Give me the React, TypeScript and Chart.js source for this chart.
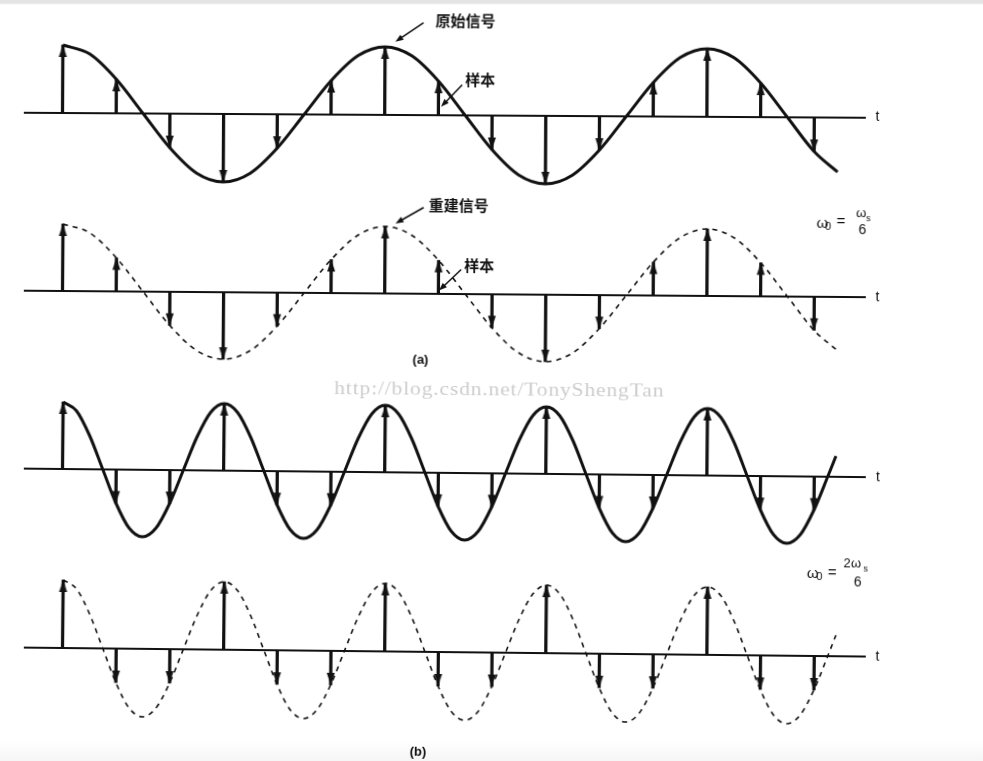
import React, { useEffect, useRef } from "react";
import { Chart, registerables } from "chart.js";

Chart.register(...registerables);

// ---------- data ----------
// sample instants (in sample periods Ts)
const sampleTimes = [0, 1, 2, 3, 4, 5, 6, 7, 8, 9, 10, 11, 12, 13, 14];
// (a) ω0 = ωs/6 : six samples per period
const samplesA = [1, 0.5, -0.5, -1, -0.5, 0.5, 1, 0.5, -0.5, -1, -0.5, 0.5, 1, 0.5, -0.5];
// (b) ω0 = 2ωs/6 : three samples per period
const samplesB = [1, -0.5, -0.5, 1, -0.5, -0.5, 1, -0.5, -0.5, 1, -0.5, -0.5, 1, -0.5, -0.5];

// continuous signal (a), read every half sample period
const curveATimes = [
  0, 0.5, 1, 1.5, 2, 2.5, 3, 3.5, 4, 4.5, 5, 5.5, 6, 6.5, 7, 7.5, 8, 8.5, 9, 9.5,
  10, 10.5, 11, 11.5, 12, 12.5, 13, 13.5, 14, 14.44,
];
const curveAValues = [
  1, 0.87, 0.5, 0, -0.5, -0.87, -1, -0.87, -0.5, 0, 0.5, 0.87,
  1, 0.87, 0.5, 0, -0.5, -0.87, -1, -0.87, -0.5, 0, 0.5, 0.87,
  1, 0.87, 0.5, 0, -0.5, -0.8,
];

// continuous signal (b), read every quarter sample period
const curveBTimes = [
  0, 0.25, 0.5, 0.75, 1, 1.25, 1.5, 1.75, 2, 2.25, 2.5, 2.75, 3, 3.25, 3.5, 3.75,
  4, 4.25, 4.5, 4.75, 5, 5.25, 5.5, 5.75, 6, 6.25, 6.5, 6.75, 7, 7.25, 7.5, 7.75,
  8, 8.25, 8.5, 8.75, 9, 9.25, 9.5, 9.75, 10, 10.25, 10.5, 10.75, 11, 11.25, 11.5, 11.75,
  12, 12.25, 12.5, 12.75, 13, 13.25, 13.5, 13.75, 14, 14.25, 14.4,
];
const curveBValues = [
  1, 0.87, 0.5, 0, -0.5, -0.87, -1, -0.87, -0.5, 0, 0.5, 0.87,
  1, 0.87, 0.5, 0, -0.5, -0.87, -1, -0.87, -0.5, 0, 0.5, 0.87,
  1, 0.87, 0.5, 0, -0.5, -0.87, -1, -0.87, -0.5, 0, 0.5, 0.87,
  1, 0.87, 0.5, 0, -0.5, -0.87, -1, -0.87, -0.5, 0, 0.5, 0.87,
  1, 0.87, 0.5, 0, -0.5, -0.87, -1, -0.87, -0.5, 0, 0.31,
];

// time axis extent
const axisSpan = [-0.72, 14.96];

// ---------- layout ----------
const W = 983;
const H = 761;
const X0 = 62.5; // pixel of t = 0
const STEP = 53.7; // pixels per sample period
const HALF = 120; // half canvas height
const INK = "#111";
const SANS = '"Liberation Sans", Arial, sans-serif';
const CJK = '"Noto Sans CJK SC", sans-serif';

type P = (x: number, y: number) => [number, number];

function txt(ctx: CanvasRenderingContext2D, p: P, s: string, x: number, y: number, font: string, align: CanvasTextAlign = "left") {
  const [cx, cy] = p(x, y);
  ctx.font = font;
  ctx.textAlign = align;
  ctx.textBaseline = "middle";
  ctx.fillStyle = INK;
  ctx.fillText(s, cx, cy);
}

function pointer(ctx: CanvasRenderingContext2D, p: P, x1: number, y1: number, x2: number, y2: number) {
  const [ax, ay] = p(x1, y1);
  const [bx, by] = p(x2, y2);
  const ang = Math.atan2(by - ay, bx - ax);
  const hl = 8, hw = 3;
  ctx.strokeStyle = INK;
  ctx.fillStyle = INK;
  ctx.lineWidth = 1.5;
  ctx.beginPath();
  ctx.moveTo(ax, ay);
  ctx.lineTo(bx - Math.cos(ang) * hl * 0.8, by - Math.sin(ang) * hl * 0.8);
  ctx.stroke();
  ctx.beginPath();
  ctx.moveTo(bx, by);
  ctx.lineTo(bx - Math.cos(ang) * hl - Math.sin(ang) * hw, by - Math.sin(ang) * hl + Math.cos(ang) * hw);
  ctx.lineTo(bx - Math.cos(ang) * hl + Math.sin(ang) * hw, by - Math.sin(ang) * hl - Math.cos(ang) * hw);
  ctx.closePath();
  ctx.fill();
}

type Part = [string, number, number, number];
function formula(ctx: CanvasRenderingContext2D, p: P, parts: Part[]) {
  for (const [s, x, y, size] of parts) txt(ctx, p, s, x, y, `${size}px ${SANS}`);
}

type PanelCfg = {
  axisY: number;
  amp: number;
  rot: number;
  samples: number[];
  curveT: number[];
  curveV: number[];
  dashed: boolean;
  draw: (ctx: CanvasRenderingContext2D, p: P) => void;
};

const panels: PanelCfg[] = [
  {
    axisY: 113.2, amp: 68, rot: 0.34, samples: samplesA, curveT: curveATimes, curveV: curveAValues, dashed: false,
    draw: (ctx, p) => {
      txt(ctx, p, "t", 877.5, 117.5, `14px ${SANS}`, "center");
      txt(ctx, p, "原始信号", 465, 21, `bold 15px ${CJK}`, "center");
      pointer(ctx, p, 423, 23, 395, 42);
      txt(ctx, p, "样本", 480, 80, `bold 15px ${CJK}`, "center");
      pointer(ctx, p, 462, 85, 441, 107);
    },
  },
  {
    axisY: 290.5, amp: 67, rot: 0.44, samples: samplesA, curveT: curveATimes, curveV: curveAValues, dashed: true,
    draw: (ctx, p) => {
      txt(ctx, p, "t", 877.5, 297, `14px ${SANS}`, "center");
      txt(ctx, p, "重建信号", 458, 205, `bold 15px ${CJK}`, "center");
      pointer(ctx, p, 423, 207, 395, 223);
      txt(ctx, p, "样本", 479, 265, `bold 15px ${CJK}`, "center");
      pointer(ctx, p, 461, 269, 439, 290);
      formula(ctx, p, [
        ["ω", 816, 223, 15],
        ["0", 824.5, 226, 11],
        ["=", 836, 221, 15],
        ["ω", 855.5, 213, 13],
        ["s", 865.5, 218, 9],
        ["6", 858, 230, 14],
      ]);
      txt(ctx, p, "(a)", 421, 360, `bold 13px ${SANS}`, "center");
      // watermark
      const [wx, wy] = p(500, 390);
      const s = "http://blog.csdn.net/TonyShengTan";
      const sx = 1.2;
      ctx.save();
      ctx.translate(wx, wy);
      ctx.scale(sx, 1);
      ctx.font = `18px "Liberation Serif", serif`;
      ctx.letterSpacing = "0px";
      const w0 = ctx.measureText(s).width;
      ctx.letterSpacing = `${(330 / sx - w0) / s.length}px`;
      ctx.fillStyle = "#cdcdcd";
      ctx.textAlign = "center";
      ctx.textBaseline = "middle";
      ctx.fillText(s, 0, 0);
      ctx.letterSpacing = "0px";
      ctx.restore();
    },
  },
  {
    axisY: 469.3, amp: 67, rot: 0.58, samples: samplesB, curveT: curveBTimes, curveV: curveBValues, dashed: false,
    draw: (ctx, p) => {
      txt(ctx, p, "t", 878, 478, `14px ${SANS}`, "center");
    },
  },
  {
    axisY: 648, amp: 68, rot: 0.61, samples: samplesB, curveT: curveBTimes, curveV: curveBValues, dashed: true,
    draw: (ctx, p) => {
      txt(ctx, p, "t", 877.5, 657, `14px ${SANS}`, "center");
      formula(ctx, p, [
        ["ω", 806, 574, 15],
        ["0", 815.5, 577, 11],
        ["=", 827, 573, 15],
        ["2", 842.5, 564, 13],
        ["ω", 850, 564, 13],
        ["s", 862.5, 569, 9],
        ["6", 853, 583, 14],
      ]);
      txt(ctx, p, "(b)", 419, 752, `bold 13px ${SANS}`, "center");
    },
  },
];

function makeHead(w: number, h: number): HTMLCanvasElement {
  const c = document.createElement("canvas");
  c.width = w + 2;
  c.height = h * 2 + 2;
  const g = c.getContext("2d")!;
  const cx = c.width / 2;
  const cy = c.height / 2;
  g.fillStyle = INK;
  g.beginPath();
  g.moveTo(cx, cy);
  g.lineTo(cx - w / 2, cy + h);
  g.lineTo(cx + w / 2, cy + h);
  g.closePath();
  g.fill();
  return c;
}

function SignalPanel({ cfg }: { cfg: PanelCfg }) {
  const ref = useRef<HTMLCanvasElement>(null);
  const top = cfg.axisY - HALF;
  useEffect(() => {
    const canvas = ref.current!;
    const head = makeHead(8, 12);
    const tan = Math.tan((cfg.rot * Math.PI) / 180);
    const p: P = (x, y) => [x, y - top - (x - X0) * tan];
    const textPlugin = {
      id: "panelText",
      afterDatasetsDraw(chart: Chart) {
        const ctx = chart.ctx;
        ctx.save();
        cfg.draw(ctx, p);
        ctx.restore();
      },
    };
    const samplePts = cfg.samples.map((v, i) => ({ x: sampleTimes[i], y: v }));
    const chart = new Chart(canvas, {
      type: "line",
      data: {
        datasets: [
          {
            type: "line",
            data: axisSpan.map((x) => ({ x, y: 0 })),
            borderColor: INK,
            borderWidth: 2,
            pointRadius: 0,
            order: 4,
          },
          {
            type: "bar",
            data: samplePts,
            backgroundColor: INK,
            barThickness: 2.6,
            order: 3,
          } as any,
          {
            type: "line",
            data: samplePts,
            showLine: false,
            pointStyle: head as any,
            pointRadius: 5,
            rotation: (c: any) => (c.raw && c.raw.y < 0 ? 180 : 0),
            order: 2,
          } as any,
          {
            type: "line",
            data: cfg.curveT.map((x, i) => ({ x, y: cfg.curveV[i] })),
            borderColor: INK,
            borderWidth: cfg.dashed ? 1.6 : 3,
            borderDash: cfg.dashed ? [5, 5] : [],
            pointRadius: 0,
            cubicInterpolationMode: "monotone",
            order: 1,
          },
        ],
      },
      options: {
        animation: false,
        responsive: false,
        devicePixelRatio: 1,
        events: [],
        layout: { padding: 0, autoPadding: false },
        scales: {
          x: { type: "linear", display: false, offset: false, min: -X0 / STEP, max: (W - X0) / STEP },
          y: { type: "linear", display: false, min: -HALF / cfg.amp, max: HALF / cfg.amp },
        },
        plugins: { legend: { display: false }, tooltip: { enabled: false }, title: { display: false } },
      } as any,
      plugins: [textPlugin as any],
    });
    return () => chart.destroy();
  }, []);
  return (
    <canvas
      ref={ref}
      width={W}
      height={HALF * 2}
      style={{
        position: "absolute",
        left: 0,
        top,
        width: W,
        height: HALF * 2,
        transform: `rotate(${cfg.rot}deg)`,
        transformOrigin: `${X0}px ${HALF}px`,
      }}
    />
  );
}

export default function App() {
  return (
    <div
      style={{
        position: "absolute",
        left: 0,
        top: 0,
        width: W,
        height: H,
        overflow: "hidden",
        background: "linear-gradient(to bottom, #e4e4e4 0px, #e4e4e4 3px, #ffffff 5px, #ffffff 742px, #f5f5f5 761px)",
      }}
    >
      {panels.map((cfg, i) => (
        <SignalPanel key={i} cfg={cfg} />
      ))}
    </div>
  );
}
